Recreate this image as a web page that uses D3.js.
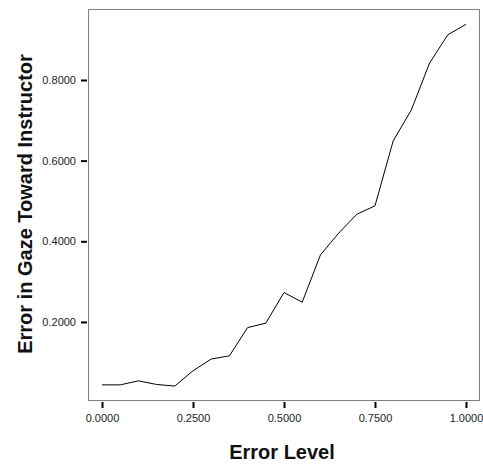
<!DOCTYPE html>
<html>
<head>
<meta charset="utf-8">
<script src="https://cdn.jsdelivr.net/npm/d3@7"></script>
<style>
  body { margin: 0; background: #fff; }
  .tick text { font-family: Arial, "Liberation Sans", sans-serif; font-size: 11px; fill: #222; }
  .axis-label { font-family: Arial, "Liberation Sans", sans-serif; font-size: 20px; font-weight: bold; fill: #111; }
</style>
</head>
<body>
<div id="chart-area"></div>
<script>
var errorLevel = [0, 0.05, 0.1, 0.15, 0.2, 0.25, 0.3, 0.35, 0.4, 0.45, 0.5,
                  0.55, 0.6, 0.65, 0.7, 0.75, 0.8, 0.85, 0.9, 0.95, 1.0];
var gazeError = [0.044, 0.044, 0.054, 0.045, 0.041, 0.079, 0.108, 0.116, 0.186, 0.197, 0.273,
                 0.249, 0.366, 0.420, 0.467, 0.488, 0.649, 0.726, 0.842, 0.912, 0.938];
var xTicks = [0, 0.25, 0.5, 0.75, 1.0];
var yTicks = [0.2, 0.4, 0.6, 0.8];

var data = errorLevel.map((d, i) => ({ x: d, y: gazeError[i] }));

var svg = d3.select('#chart-area').append('svg')
    .attr('width', 483)
    .attr('height', 464);

var x = d3.scaleLinear().domain([-0.0385, 1.0385]).range([88, 480]);
var y = d3.scaleLinear().domain([0.004, 0.976]).range([401, 9]);

// frame
svg.append('rect')
    .attr('x', 88.5).attr('y', 9.5)
    .attr('width', 391).attr('height', 391)
    .attr('fill', 'none')
    .attr('stroke', '#808080')
    .attr('stroke-width', 1);

var xAxis = svg.append('g')
    .attr('transform', 'translate(0, 402)')
    .call(d3.axisBottom(x).tickValues(xTicks).tickSize(6).tickPadding(6).tickFormat(d3.format('.4f')));
xAxis.select('.domain').remove();
xAxis.selectAll('.tick line').attr('stroke', '#000').attr('stroke-width', 2);

var yAxis = svg.append('g')
    .attr('transform', 'translate(87, 0)')
    .call(d3.axisLeft(y).tickValues(yTicks).tickSize(6).tickPadding(5).tickFormat(d3.format('.4f')));
yAxis.select('.domain').remove();
yAxis.selectAll('.tick line').attr('stroke', '#000').attr('stroke-width', 2);

var line = d3.line().x(d => x(d.x)).y(d => y(d.y));

svg.append('path')
    .datum(data)
    .attr('d', line)
    .attr('fill', 'none')
    .attr('stroke', '#000')
    .attr('stroke-width', 1);

svg.append('text')
    .attr('class', 'axis-label')
    .attr('x', 282)
    .attr('y', 459)
    .attr('text-anchor', 'middle')
    .text('Error Level');

svg.append('text')
    .attr('class', 'axis-label')
    .attr('transform', 'translate(32, 204) rotate(-90)')
    .attr('text-anchor', 'middle')
    .text('Error in Gaze Toward Instructor');
</script>
</body>
</html>
